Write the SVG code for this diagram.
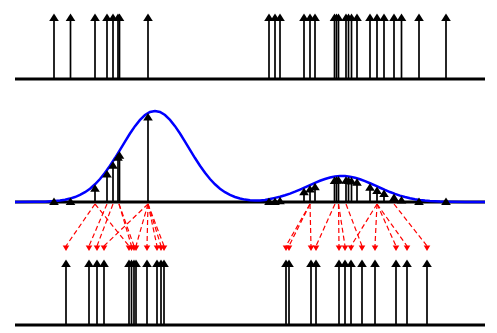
<svg xmlns="http://www.w3.org/2000/svg" xmlns:xlink="http://www.w3.org/1999/xlink" width="497" height="333" viewBox="0 0 497 333">
<style>
.ax{stroke:#000;stroke-width:2.8;fill:none}
.st{stroke:#000;stroke-width:1.7;fill:none}
.rs{stroke:#ff0000;stroke-width:1.2;stroke-dasharray:5,3;fill:none}
.cv{stroke:#0000ff;stroke-width:2.5;fill:none}
</style>
<defs>
<path id="ah" d="M0,0 L4.8,7.5 L-4.8,7.5 Z" fill="#000"/>
<path id="rh" d="M0,0 L3.3,-5.5 L-3.3,-5.5 Z" fill="#ff0000"/>
</defs>
<rect width="497" height="333" fill="#fff"/>
<g id="axes">
<line class="ax" x1="15" y1="79" x2="485" y2="79"/>
<line class="ax" x1="15" y1="202" x2="485" y2="202"/>
<line class="ax" x1="15" y1="325" x2="485" y2="325"/>
</g>
<g id="likelihood">
<path class="cv" d="M15,202 L35,201.87 L45,201.63 L55,201.03 L60,200.49 L65,199.71 L70,198.59 L75,197.04 L80,194.94 L85,192.19 L90,188.67 L95,184.28 L100,178.99 L105,172.79 L110,165.76 L115,158.03 L120,149.85 L125,141.56 L130,133.5 L135,126.13 L140,119.85 L145,115.04 L150,112.03 L155,111 L160,112.03 L165,115.04 L170,119.85 L175,126.13 L180,133.5 L185,141.56 L190,149.85 L195,158.03 L200,165.76 L205,172.79 L210,178.99 L215,184.28 L220,188.67 L225,192.19 L230,194.9 L235,197 L240,198.5 L245,199.6 L250,200.3 L255,200.6 L260,200.5 L265,199.9 L270,199 L275,197.87 L280,196.76 L285,195.28 L290,193.58 L295,191.64 L300,189.53 L305,187.3 L310,185.03 L315,182.81 L320,180.75 L325,178.95 L330,177.51 L335,176.53 L340,176.02 L345,176.1 L350,176.68 L355,177.77 L360,179.28 L365,181.14 L370,183.25 L375,185.48 L380,187.75 L385,189.97 L390,192.04 L395,193.93 L400,195.6 L405,197.03 L410,198.21 L415,199.18 L420,199.94 L425,200.53 L430,200.97 L440,201.52 L450,201.8 L465,201.95 L485,202"/>
</g>
<g id="prior-particles">
<g class="st">
<line x1="54" y1="79" x2="54" y2="20"/><line x1="70.5" y1="79" x2="70.5" y2="20"/><line x1="95" y1="79" x2="95" y2="20"/><line x1="107" y1="79" x2="107" y2="20"/><line x1="113" y1="79" x2="113" y2="20"/><line x1="118" y1="79" x2="118" y2="20"/><line x1="119.5" y1="79" x2="119.5" y2="20"/><line x1="148" y1="79" x2="148" y2="20"/>
<line x1="269" y1="79" x2="269" y2="20"/><line x1="275" y1="79" x2="275" y2="20"/><line x1="280" y1="79" x2="280" y2="20"/><line x1="304" y1="79" x2="304" y2="20"/><line x1="310" y1="79" x2="310" y2="20"/><line x1="315" y1="79" x2="315" y2="20"/><line x1="334.5" y1="79" x2="334.5" y2="20"/><line x1="336.5" y1="79" x2="336.5" y2="20"/><line x1="338.5" y1="79" x2="338.5" y2="20"/><line x1="346" y1="79" x2="346" y2="20"/><line x1="348.5" y1="79" x2="348.5" y2="20"/><line x1="351.5" y1="79" x2="351.5" y2="20"/><line x1="357" y1="79" x2="357" y2="20"/><line x1="370" y1="79" x2="370" y2="20"/><line x1="377" y1="79" x2="377" y2="20"/><line x1="384" y1="79" x2="384" y2="20"/><line x1="394" y1="79" x2="394" y2="20"/><line x1="401.5" y1="79" x2="401.5" y2="20"/><line x1="419" y1="79" x2="419" y2="20"/><line x1="446" y1="79" x2="446" y2="20"/>
</g>
<use xlink:href="#ah" x="54" y="13.5"/><use xlink:href="#ah" x="70.5" y="13.5"/><use xlink:href="#ah" x="95" y="13.5"/><use xlink:href="#ah" x="107" y="13.5"/><use xlink:href="#ah" x="113" y="13.5"/><use xlink:href="#ah" x="118" y="13.5"/><use xlink:href="#ah" x="119.5" y="13.5"/><use xlink:href="#ah" x="148" y="13.5"/>
<use xlink:href="#ah" x="269" y="13.5"/><use xlink:href="#ah" x="275" y="13.5"/><use xlink:href="#ah" x="280" y="13.5"/><use xlink:href="#ah" x="304" y="13.5"/><use xlink:href="#ah" x="310" y="13.5"/><use xlink:href="#ah" x="315" y="13.5"/><use xlink:href="#ah" x="334.5" y="13.5"/><use xlink:href="#ah" x="336.5" y="13.5"/><use xlink:href="#ah" x="338.5" y="13.5"/><use xlink:href="#ah" x="346" y="13.5"/><use xlink:href="#ah" x="348.5" y="13.5"/><use xlink:href="#ah" x="351.5" y="13.5"/><use xlink:href="#ah" x="357" y="13.5"/><use xlink:href="#ah" x="370" y="13.5"/><use xlink:href="#ah" x="377" y="13.5"/><use xlink:href="#ah" x="384" y="13.5"/><use xlink:href="#ah" x="394" y="13.5"/><use xlink:href="#ah" x="401.5" y="13.5"/><use xlink:href="#ah" x="419" y="13.5"/><use xlink:href="#ah" x="446" y="13.5"/>
</g>
<g id="weighted-particles">
<g class="st">
<line x1="95" y1="202" x2="95" y2="190"/><line x1="107" y1="202" x2="107" y2="176"/><line x1="113" y1="202" x2="113" y2="167"/><line x1="118" y1="202" x2="118" y2="159"/><line x1="119.5" y1="202" x2="119.5" y2="157"/><line x1="148" y1="202" x2="148" y2="119"/>
<line x1="304" y1="202" x2="304" y2="193.5"/><line x1="310" y1="202" x2="310" y2="191"/><line x1="315" y1="202" x2="315" y2="188.5"/><line x1="334.5" y1="202" x2="334.5" y2="182.5"/><line x1="336.5" y1="202" x2="336.5" y2="182.3"/><line x1="338.5" y1="202" x2="338.5" y2="182"/><line x1="346" y1="202" x2="346" y2="182"/><line x1="348.5" y1="202" x2="348.5" y2="182.5"/><line x1="351.5" y1="202" x2="351.5" y2="183"/><line x1="357" y1="202" x2="357" y2="184.3"/><line x1="370" y1="202" x2="370" y2="189"/><line x1="377" y1="202" x2="377" y2="192"/><line x1="384" y1="202" x2="384" y2="195.5"/><line x1="394" y1="202" x2="394" y2="199"/>
</g>
<use xlink:href="#ah" x="54" y="197.5"/><use xlink:href="#ah" x="70.5" y="197.5"/><use xlink:href="#ah" x="95" y="184.3"/><use xlink:href="#ah" x="107" y="170.1"/><use xlink:href="#ah" x="113" y="161.2"/><use xlink:href="#ah" x="118" y="153.2"/><use xlink:href="#ah" x="119.5" y="151.2"/><use xlink:href="#ah" x="148" y="113"/>
<use xlink:href="#ah" x="269" y="197.5"/><use xlink:href="#ah" x="275" y="197.5"/><use xlink:href="#ah" x="280" y="196.7"/><use xlink:href="#ah" x="304" y="187.7"/><use xlink:href="#ah" x="310" y="185"/><use xlink:href="#ah" x="315" y="182.8"/><use xlink:href="#ah" x="334.5" y="176.6"/><use xlink:href="#ah" x="336.5" y="176.3"/><use xlink:href="#ah" x="338.5" y="176.1"/><use xlink:href="#ah" x="346" y="176.2"/><use xlink:href="#ah" x="348.5" y="176.5"/><use xlink:href="#ah" x="351.5" y="177"/><use xlink:href="#ah" x="357" y="178.3"/><use xlink:href="#ah" x="370" y="183.2"/><use xlink:href="#ah" x="377" y="186.4"/><use xlink:href="#ah" x="384" y="189.5"/><use xlink:href="#ah" x="394" y="193.6"/><use xlink:href="#ah" x="401.5" y="195.9"/><use xlink:href="#ah" x="419" y="197.5"/><use xlink:href="#ah" x="446" y="197.5"/>
</g>
<g id="resampling-connectors">
<g class="rs">
<line x1="95" y1="204" x2="66" y2="246"/><line x1="107" y1="204" x2="89" y2="246"/><line x1="113" y1="204" x2="97" y2="246"/><line x1="148" y1="204" x2="104" y2="246"/><line x1="95" y1="204" x2="129" y2="246"/><line x1="119" y1="204" x2="131.5" y2="246"/><line x1="119" y1="204" x2="134" y2="246"/><line x1="148" y1="204" x2="136" y2="246"/><line x1="148" y1="204" x2="147" y2="246"/><line x1="148" y1="204" x2="157" y2="246"/><line x1="148" y1="204" x2="161" y2="246"/><line x1="148" y1="204" x2="164" y2="246"/>
<line x1="310" y1="204" x2="286" y2="246"/><line x1="310" y1="204" x2="289" y2="246"/><line x1="310" y1="204" x2="311" y2="246"/><line x1="335" y1="204" x2="316" y2="246"/><line x1="338.5" y1="204" x2="339" y2="246"/><line x1="338.5" y1="204" x2="345" y2="246"/><line x1="377" y1="204" x2="351" y2="246"/><line x1="346" y1="204" x2="362" y2="246"/><line x1="377" y1="204" x2="375" y2="246"/><line x1="377" y1="204" x2="396" y2="246"/><line x1="377" y1="204" x2="407" y2="246"/><line x1="394" y1="204" x2="427" y2="246"/>
</g>
<use xlink:href="#rh" x="66" y="251"/><use xlink:href="#rh" x="89" y="251"/><use xlink:href="#rh" x="97" y="251"/><use xlink:href="#rh" x="104" y="251"/><use xlink:href="#rh" x="129" y="251"/><use xlink:href="#rh" x="131.5" y="251"/><use xlink:href="#rh" x="134" y="251"/><use xlink:href="#rh" x="136" y="251"/><use xlink:href="#rh" x="147" y="251"/><use xlink:href="#rh" x="157" y="251"/><use xlink:href="#rh" x="161" y="251"/><use xlink:href="#rh" x="164" y="251"/>
<use xlink:href="#rh" x="286" y="251"/><use xlink:href="#rh" x="289" y="251"/><use xlink:href="#rh" x="311" y="251"/><use xlink:href="#rh" x="316" y="251"/><use xlink:href="#rh" x="339" y="251"/><use xlink:href="#rh" x="345" y="251"/><use xlink:href="#rh" x="351" y="251"/><use xlink:href="#rh" x="362" y="251"/><use xlink:href="#rh" x="375" y="251"/><use xlink:href="#rh" x="396" y="251"/><use xlink:href="#rh" x="407" y="251"/><use xlink:href="#rh" x="427" y="251"/>
</g>
<g id="posterior-particles">
<g class="st">
<line x1="66" y1="325" x2="66" y2="266"/><line x1="89" y1="325" x2="89" y2="266"/><line x1="97" y1="325" x2="97" y2="266"/><line x1="104" y1="325" x2="104" y2="266"/><line x1="129" y1="325" x2="129" y2="266"/><line x1="131.5" y1="325" x2="131.5" y2="266"/><line x1="134" y1="325" x2="134" y2="266"/><line x1="136" y1="325" x2="136" y2="266"/><line x1="147" y1="325" x2="147" y2="266"/><line x1="157" y1="325" x2="157" y2="266"/><line x1="161" y1="325" x2="161" y2="266"/><line x1="164" y1="325" x2="164" y2="266"/>
<line x1="286" y1="325" x2="286" y2="266"/><line x1="289" y1="325" x2="289" y2="266"/><line x1="311" y1="325" x2="311" y2="266"/><line x1="316" y1="325" x2="316" y2="266"/><line x1="339" y1="325" x2="339" y2="266"/><line x1="345" y1="325" x2="345" y2="266"/><line x1="351" y1="325" x2="351" y2="266"/><line x1="362" y1="325" x2="362" y2="266"/><line x1="375" y1="325" x2="375" y2="266"/><line x1="396" y1="325" x2="396" y2="266"/><line x1="407" y1="325" x2="407" y2="266"/><line x1="427" y1="325" x2="427" y2="266"/>
</g>
<use xlink:href="#ah" x="66" y="259.5"/><use xlink:href="#ah" x="89" y="259.5"/><use xlink:href="#ah" x="97" y="259.5"/><use xlink:href="#ah" x="104" y="259.5"/><use xlink:href="#ah" x="129" y="259.5"/><use xlink:href="#ah" x="131.5" y="259.5"/><use xlink:href="#ah" x="134" y="259.5"/><use xlink:href="#ah" x="136" y="259.5"/><use xlink:href="#ah" x="147" y="259.5"/><use xlink:href="#ah" x="157" y="259.5"/><use xlink:href="#ah" x="161" y="259.5"/><use xlink:href="#ah" x="164" y="259.5"/>
<use xlink:href="#ah" x="286" y="259.5"/><use xlink:href="#ah" x="289" y="259.5"/><use xlink:href="#ah" x="311" y="259.5"/><use xlink:href="#ah" x="316" y="259.5"/><use xlink:href="#ah" x="339" y="259.5"/><use xlink:href="#ah" x="345" y="259.5"/><use xlink:href="#ah" x="351" y="259.5"/><use xlink:href="#ah" x="362" y="259.5"/><use xlink:href="#ah" x="375" y="259.5"/><use xlink:href="#ah" x="396" y="259.5"/><use xlink:href="#ah" x="407" y="259.5"/><use xlink:href="#ah" x="427" y="259.5"/>
</g>
</svg>
